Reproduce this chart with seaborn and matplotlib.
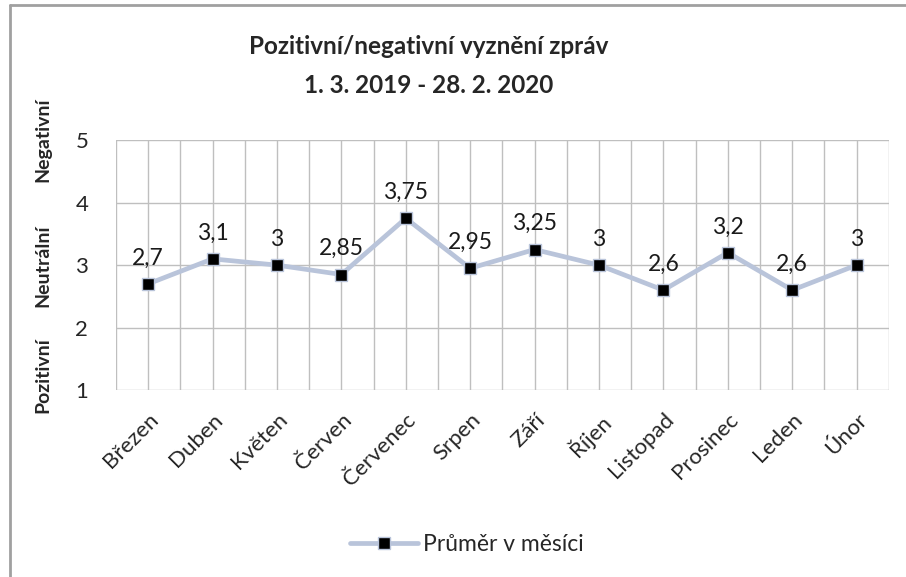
import matplotlib
matplotlib.use("Agg")
import matplotlib.pyplot as plt
import seaborn as sns
import numpy as np
import pandas as pd
from matplotlib.lines import Line2D

# Data
mesice = ["Březen", "Duben", "Květen", "Červen", "Červenec", "Srpen", "Září",
          "Říjen", "Listopad", "Prosinec", "Leden", "Únor"]
prumer = [2.7, 3.1, 3.0, 2.85, 3.75, 2.95, 3.25, 3.0, 2.6, 3.2, 2.6, 3.0]
popisky = ["2,7", "3,1", "3", "2,85", "3,75", "2,95", "3,25", "3", "2,6", "3,2", "2,6", "3"]
nazev = "Pozitivní/negativní vyznění zpráv\n1. 3. 2019 - 28. 2. 2020"

df = pd.DataFrame({"x": np.arange(len(mesice)), "y": prumer})

sns.set_theme(style="white")
plt.rcParams["font.family"] = ["Lato", "DejaVu Sans"]

fig = plt.figure(figsize=(9.06, 5.77), dpi=100)
ax = fig.add_axes([0.128, 0.324, 0.853, 0.433])

line_col = "#b9c4da"
sns.lineplot(data=df, x="x", y="y", ax=ax, color=line_col, linewidth=3.4,
             marker="s", markersize=8, markerfacecolor="black",
             markeredgecolor=line_col, markeredgewidth=1, zorder=3)

for xi, yi, t in zip(df["x"], df["y"], popisky):
    ax.annotate(t, (xi, yi), xytext=(0, 11), textcoords="offset points",
                ha="center", va="bottom", fontsize=16.5, color="#1a1a1a")

ax.set_xlim(-0.5, len(mesice) - 0.5)
ax.set_ylim(1, 5)
ax.set_yticks([1, 2, 3, 4, 5])
ax.set_xticks(df["x"])
ax.set_xticklabels(mesice, rotation=45, ha="right", rotation_mode="anchor",
                   fontsize=16)
ax.tick_params(axis="y", labelsize=16, length=0, pad=20)
ax.tick_params(axis="x", length=0, pad=14)
ax.set_xlabel("")
ax.set_ylabel("")

grid_col = "#bfbfbf"
for v in np.arange(-0.5, len(mesice), 0.5):
    ax.axvline(v, color=grid_col, lw=1, zorder=1)
for h in [1, 2, 3, 4, 5]:
    ax.axhline(h, color=grid_col, lw=1, zorder=1)
for s in ax.spines.values():
    s.set_visible(False)

fig.suptitle(nazev, fontsize=17.5, fontweight="bold", x=0.473, y=0.94,
             linespacing=1.85)

# popisky skaly vlevo
for txt, yp in [("Negativní", 0.757), ("Neutrální", 0.54), ("Pozitivní", 0.35)]:
    fig.text(0.047, yp, txt, rotation=90, ha="center", va="center",
             fontsize=14, fontweight="bold")

# okraj grafu
fig.add_artist(Line2D([0.011, 0.011], [0, 0.992], color="#a0a0a0", lw=2))
fig.add_artist(Line2D([0.011, 1], [0.992, 0.992], color="#a0a0a0", lw=2))

handle = Line2D([], [], color=line_col, lw=3.4, marker="s", markersize=8,
                markerfacecolor="black", markeredgecolor=line_col)
fig.legend([handle], ["Průměr v měsíci"], loc="center", bbox_to_anchor=(0.515, 0.057),
           frameon=False, fontsize=16.5, handlelength=3, handletextpad=0.2)

fig.savefig("out.png", dpi=100)
